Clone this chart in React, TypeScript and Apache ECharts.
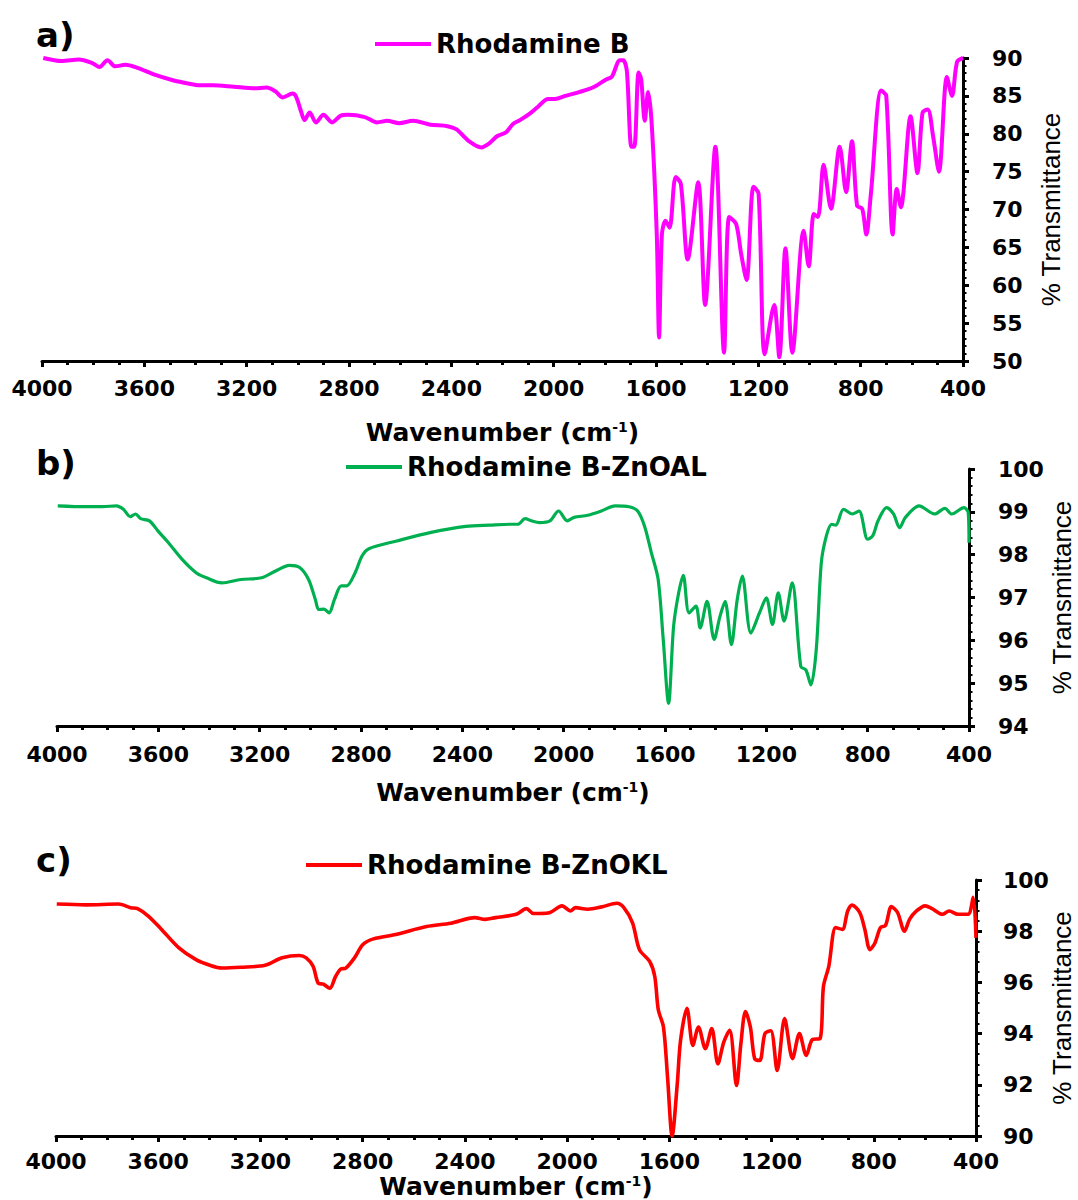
import React, { useEffect, useRef } from "react";
import * as echarts from "echarts";

// ---------- DATA ----------
const WN_A = [3995, 3923, 3856, 3802, 3775, 3744, 3714, 3674, 3627, 3560, 3492, 3425, 3385, 3331, 3250, 3169, 3122, 3088, 3059, 3021, 3007, 2987, 2974, 2954, 2929, 2900, 2866, 2832, 2805, 2738, 2691, 2651, 2604, 2550, 2482, 2415, 2381, 2334, 2283, 2253, 2220, 2186, 2159, 2132, 2092, 2060, 2022, 1995, 1955, 1901, 1847, 1793, 1773, 1741, 1728, 1714, 1696, 1685, 1668, 1658, 1644, 1631, 1617, 1597, 1588, 1577, 1563, 1547, 1523, 1503, 1476, 1435, 1408, 1368, 1334, 1314, 1287, 1267, 1246, 1219, 1199, 1175, 1138, 1118, 1094, 1067, 1023, 1003, 983, 967, 945, 916, 882, 857, 834, 814, 794, 778, 760, 720, 700, 675, 659, 643, 605, 578, 558, 538, 517, 494, 463, 443, 423, 400];
const T_A = [90.0, 89.6, 89.8, 89.3, 88.8, 89.7, 88.9, 89.1, 88.7, 87.8, 87.1, 86.6, 86.4, 86.4, 86.2, 86.0, 86.1, 85.6, 84.8, 85.3, 84.9, 82.9, 81.8, 82.8, 81.5, 82.5, 81.5, 82.4, 82.5, 82.2, 81.5, 81.7, 81.4, 81.7, 81.2, 81.0, 80.6, 79.1, 78.2, 78.7, 79.7, 80.2, 81.3, 81.8, 82.7, 83.6, 84.6, 84.6, 85.0, 85.5, 86.1, 87.2, 87.5, 89.7, 89.7, 88.3, 78.3, 78.3, 88.1, 87.2, 81.7, 85.5, 81.4, 66.7, 53.1, 66.7, 68.5, 67.6, 74.3, 73.4, 63.4, 73.6, 57.4, 78.3, 51.1, 69.0, 68.1, 64.1, 60.7, 73.0, 72.1, 50.9, 57.4, 50.5, 64.9, 51.1, 67.2, 62.5, 69.4, 69.0, 75.9, 70.1, 78.3, 72.3, 79.0, 70.5, 70.1, 66.7, 72.1, 85.7, 85.0, 66.7, 72.7, 70.3, 82.3, 74.8, 82.8, 83.2, 79.7, 75.0, 87.5, 85.0, 89.5, 90.0];

const WN_B = [3997, 3888, 3820, 3765, 3738, 3711, 3690, 3670, 3635, 3601, 3560, 3506, 3451, 3410, 3349, 3274, 3192, 3137, 3083, 3042, 3007, 2980, 2967, 2946, 2926, 2905, 2878, 2857, 2823, 2796, 2769, 2659, 2523, 2386, 2291, 2209, 2181, 2152, 2127, 2095, 2054, 2020, 1986, 1959, 1905, 1851, 1797, 1742, 1708, 1681, 1654, 1627, 1607, 1586, 1566, 1546, 1528, 1505, 1478, 1461, 1434, 1406, 1383, 1363, 1338, 1315, 1295, 1261, 1227, 1200, 1176, 1153, 1130, 1098, 1064, 1044, 1024, 1003, 983, 963, 942, 926, 895, 861, 834, 800, 780, 759, 725, 698, 674, 651, 597, 536, 495, 468, 420, 403, 400];
const T_B = [99.14, 99.12, 99.12, 99.14, 99.06, 98.89, 98.95, 98.84, 98.79, 98.55, 98.28, 97.89, 97.58, 97.46, 97.34, 97.42, 97.46, 97.62, 97.75, 97.70, 97.42, 96.95, 96.72, 96.73, 96.64, 96.95, 97.27, 97.27, 97.58, 97.97, 98.14, 98.32, 98.52, 98.66, 98.69, 98.71, 98.71, 98.84, 98.79, 98.75, 98.79, 99.02, 98.79, 98.87, 98.92, 99.02, 99.14, 99.12, 99.02, 98.67, 98.05, 97.42, 96.02, 94.53, 96.33, 97.11, 97.52, 96.64, 96.80, 96.29, 96.91, 96.02, 96.56, 96.91, 95.90, 96.95, 97.50, 96.17, 96.64, 96.99, 96.37, 97.11, 96.45, 97.34, 95.39, 95.31, 94.96, 95.78, 97.81, 98.44, 98.71, 98.69, 99.06, 98.95, 99.02, 98.36, 98.44, 98.79, 99.10, 98.95, 98.63, 98.87, 99.14, 98.95, 99.08, 98.95, 99.10, 98.98, 98.28];

const WN_C = [3997, 3883, 3755, 3708, 3681, 3640, 3587, 3519, 3452, 3398, 3351, 3277, 3182, 3115, 3048, 3021, 2994, 2974, 2954, 2929, 2906, 2886, 2866, 2832, 2799, 2758, 2671, 2550, 2455, 2361, 2321, 2280, 2199, 2159, 2132, 2108, 2067, 2020, 1987, 1967, 1919, 1865, 1805, 1778, 1744, 1717, 1677, 1657, 1643, 1623, 1607, 1589, 1569, 1556, 1531, 1508, 1486, 1459, 1434, 1410, 1387, 1364, 1337, 1320, 1302, 1283, 1266, 1246, 1226, 1203, 1178, 1149, 1118, 1091, 1064, 1040, 1010, 997, 976, 949, 923, 902, 885, 855, 835, 815, 795, 774, 754, 731, 707, 680, 660, 633, 599, 572, 532, 505, 471, 431, 411, 400];
const T_C = [99.06, 99.03, 99.06, 98.92, 98.88, 98.60, 98.07, 97.35, 96.89, 96.67, 96.56, 96.59, 96.67, 96.96, 97.05, 96.96, 96.63, 95.97, 95.93, 95.77, 96.23, 96.52, 96.56, 96.96, 97.48, 97.70, 97.87, 98.18, 98.31, 98.53, 98.46, 98.53, 98.66, 98.88, 98.69, 98.69, 98.73, 98.99, 98.79, 98.92, 98.86, 98.95, 99.09, 98.92, 98.33, 97.28, 96.82, 96.23, 94.92, 94.26, 92.30, 90.0, 92.03, 93.74, 94.99, 93.54, 94.26, 93.41, 94.20, 92.82, 93.67, 94.13, 91.97, 93.61, 94.86, 94.26, 93.02, 92.95, 94.0, 94.11, 92.56, 94.59, 93.02, 94.0, 93.15, 93.77, 93.81, 95.84, 96.63, 98.14, 98.07, 98.79, 99.02, 98.73, 98.07, 97.28, 97.55, 98.14, 98.23, 98.96, 98.73, 98.0, 98.46, 98.79, 98.99, 98.88, 98.66, 98.79, 98.66, 98.66, 99.32, 97.74];

const SERIES_NAMES = ["Rhodamine B", "Rhodamine B-ZnOAL", "Rhodamine B-ZnOKL"];
const PANEL_LABELS = ["a)", "b)", "c)"];
const X_AXIS = [400, 4000, 400]; // min, max, interval (cm-1)
const Y_AXES = [
  [50, 90, 5],
  [94, 100, 1],
  [90, 100, 2],
];
const X_NAME = "Wavenumber (cm{sup|-1})";
const Y_NAME = "% Transmittance";

// ---------- STYLE / LAYOUT ----------
const COLORS = ["#FF00FF", "#00B050", "#FF0000"];
const LINE_WIDTHS = [4, 3.2, 3.6];
const GRIDS = [
  { left: 42, top: 58, width: 921, height: 303 },
  { left: 57, top: 469, width: 912, height: 257 },
  { left: 56, top: 880, width: 920, height: 256 },
];
const X_LABEL_MARGIN = [16, 17, 14];
const X_NAME_GAP = [59, 54, 38];
const Y_LABEL_MARGIN = [29, 29, 27];
const Y_NAME_GAP = [75, 80, 73];
const Y_MINOR_SPLIT = [5, 5, 5];
const LEGEND_POS = [
  { left: 375, top: 31 },
  { left: 346, top: 454 },
  { left: 306, top: 852 },
];
const LABEL_POS = [
  { x: 36, y: 18 },
  { x: 36, y: 446 },
  { x: 36, y: 843 },
];
const FONT = "DejaVu Sans";

export default function App() {
  const ref = useRef<HTMLDivElement>(null);

  useEffect(() => {
    if (!ref.current) return;
    const chart = echarts.init(ref.current, null, { renderer: "svg" });
    const wns = [WN_A, WN_B, WN_C];
    const ts = [T_A, T_B, T_C];
    const plain = (v: number) => String(v);

    const option: any = {
      animation: false,
      backgroundColor: "#ffffff",
      grid: GRIDS.map((g) => ({ ...g, containLabel: false, outerBoundsMode: "none" })),
      xAxis: GRIDS.map((_, i) => ({
        gridIndex: i,
        type: "value",
        min: X_AXIS[0],
        max: X_AXIS[1],
        interval: X_AXIS[2],
        inverse: true,
        axisLine: { show: true, onZero: false, lineStyle: { color: "#000", width: 3 } },
        axisTick: { show: true, inside: false, length: 6, lineStyle: { color: "#000", width: 3 } },
        minorTick: { show: true, splitNumber: 4, length: 4, lineStyle: { color: "#000", width: 3 } },
        splitLine: { show: false },
        minorSplitLine: { show: false },
        axisLabel: {
          color: "#000",
          fontFamily: FONT,
          fontWeight: "bold",
          fontSize: 22,
          lineHeight: 22,
          margin: X_LABEL_MARGIN[i],
          showMinLabel: true,
          showMaxLabel: true,
          formatter: plain,
        },
        name: X_NAME,
        nameLocation: "middle",
        nameGap: X_NAME_GAP[i],
        nameMoveOverlap: false,
        nameTextStyle: {
          color: "#000",
          fontFamily: FONT,
          fontWeight: "bold",
          fontSize: 25,
          lineHeight: 24,
          rich: {
            sup: {
              color: "#000",
              fontFamily: FONT,
              fontWeight: "bold",
              fontSize: 14,
              lineHeight: 24,
              verticalAlign: "top",
            },
          },
        },
      })),
      yAxis: GRIDS.map((_, i) => ({
        gridIndex: i,
        type: "value",
        position: "right",
        min: Y_AXES[i][0],
        max: Y_AXES[i][1],
        interval: Y_AXES[i][2],
        axisLine: { show: true, onZero: false, lineStyle: { color: "#000", width: 3 } },
        axisTick: { show: true, inside: false, length: 6, lineStyle: { color: "#000", width: 3 } },
        minorTick: { show: true, splitNumber: Y_MINOR_SPLIT[i], length: 3.5, lineStyle: { color: "#000", width: 2 } },
        splitLine: { show: false },
        minorSplitLine: { show: false },
        axisLabel: {
          color: "#000",
          fontFamily: FONT,
          fontWeight: "bold",
          fontSize: 22,
          margin: Y_LABEL_MARGIN[i],
          showMinLabel: true,
          showMaxLabel: true,
          formatter: plain,
        },
        name: Y_NAME,
        nameLocation: "middle",
        nameRotate: 90,
        nameGap: Y_NAME_GAP[i],
        nameMoveOverlap: false,
        nameTextStyle: {
          color: "#000",
          fontFamily: "Liberation Sans",
          fontSize: 26,
          lineHeight: 26,
        },
      })),
      legend: GRIDS.map((_, i) => ({
        data: [SERIES_NAMES[i]],
        left: LEGEND_POS[i].left,
        top: LEGEND_POS[i].top,
        padding: 0,
        itemWidth: 56,
        itemHeight: 4,
        icon: "rect",
        selectedMode: false,
        textStyle: {
          color: "#000",
          fontFamily: FONT,
          fontWeight: "bold",
          fontSize: 26,
        },
      })),
      graphic: PANEL_LABELS.map((t, i) => ({
        type: "text",
        x: LABEL_POS[i].x,
        y: LABEL_POS[i].y,
        style: {
          text: t,
          fill: "#000",
          font: `bold 34px '${FONT}'`,
          verticalAlign: "top",
        },
      })),
      series: GRIDS.map((_, i) => ({
        type: "line",
        name: SERIES_NAMES[i],
        xAxisIndex: i,
        yAxisIndex: i,
        data: wns[i].map((w, j) => [w, ts[i][j]]),
        showSymbol: false,
        symbol: "none",
        smooth: 0.3,
        clip: true,
        color: COLORS[i],
        lineStyle: { color: COLORS[i], width: LINE_WIDTHS[i] },
        itemStyle: { color: COLORS[i] },
      })),
    };

    chart.setOption(option);
    return () => chart.dispose();
  }, []);

  return (
    <div
      ref={ref}
      style={{ position: "absolute", left: 0, top: 0, width: 1078, height: 1200, background: "#fff" }}
    />
  );
}
